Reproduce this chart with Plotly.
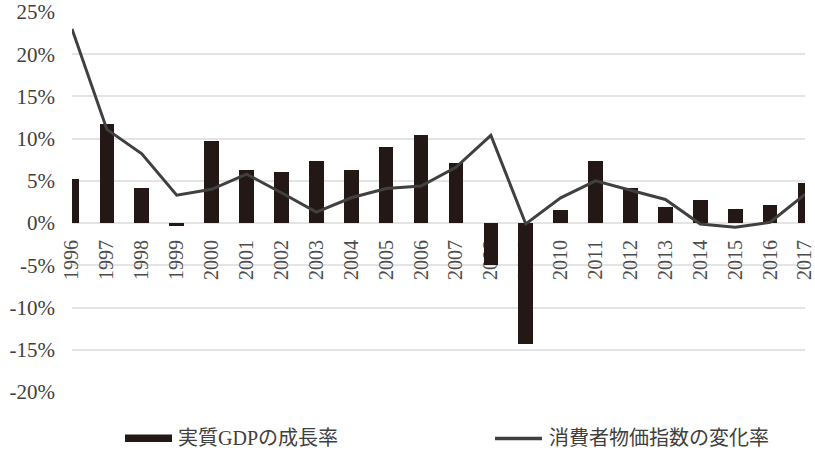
import plotly.graph_objects as go

# Annual figures, 1996-2017
years = [str(y) for y in range(1996, 2018)]
gdp_growth = [5.2, 11.7, 4.2, -0.3, 9.7, 6.3, 6.0, 7.4, 6.3, 9.0, 10.4,
              7.1, -5.0, -14.3, 1.5, 7.4, 4.2, 1.9, 2.7, 1.7, 2.1, 4.7]
cpi_change = [23.0, 11.1, 8.2, 3.3, 4.0, 5.8, 3.6, 1.3, 3.0, 4.1, 4.4,
              6.6, 10.4, -0.1, 3.0, 5.0, 3.9, 2.8, -0.1, -0.5, 0.1, 3.4]
y_ticks = [-20, -15, -10, -5, 0, 5, 10, 15, 20, 25]
y_tick_labels = [f"{v}%" for v in y_ticks]

series_names = ["実質GDPの成長率", "消費者物価指数の変化率"]

BAR_COLOR = "#231815"
LINE_COLOR = "#404040"
TEXT_COLOR = "#404040"
GRID_COLOR = "#e4e4e4"
SERIF = '"Liberation Serif", "Times New Roman", Times, serif'
MIXED = '"Liberation Serif", "Times New Roman", "Noto Sans CJK JP", serif'

W, H = 815, 453
ML, MR, MT, MB = 72, 10, 12, 61
PW, PH = W - ML - MR, H - MT - MB
Y_MIN, Y_MAX = -20, 25

x_pos = list(range(len(years)))

fig = go.Figure()
fig.add_trace(go.Bar(
    x=x_pos, y=gdp_growth, width=0.42,
    marker=dict(color=BAR_COLOR, line=dict(width=0)),
    name=series_names[0], showlegend=False,
))
fig.add_trace(go.Scatter(
    x=x_pos, y=cpi_change, mode="lines",
    line=dict(color=LINE_COLOR, width=3),
    name=series_names[1], showlegend=False,
))


def px_x(px):
    return (px - ML) / PW


def px_y(py):
    return (H - MB - py) / PH


# Legend drawn below the plot: bar swatch, line swatch, labels
shapes = [
    dict(type="rect", xref="paper", yref="paper",
         x0=px_x(125), x1=px_x(172), y0=px_y(442), y1=px_y(434.5),
         fillcolor=BAR_COLOR, line=dict(width=0)),
    dict(type="line", xref="paper", yref="paper",
         x0=px_x(495), x1=px_x(542), y0=px_y(438.5), y1=px_y(438.5),
         line=dict(color=LINE_COLOR, width=3.5)),
]
annotations = [
    dict(text=series_names[0], xref="paper", yref="paper",
         x=px_x(176), y=px_y(438), xanchor="left", yanchor="middle",
         showarrow=False, font=dict(family=MIXED, size=20, color=TEXT_COLOR)),
    dict(text=series_names[1], xref="paper", yref="paper",
         x=px_x(547), y=px_y(438), xanchor="left", yanchor="middle",
         showarrow=False, font=dict(family=MIXED, size=20, color=TEXT_COLOR)),
]

fig.update_layout(
    width=W, height=H,
    margin=dict(l=ML, r=MR, t=MT, b=MB, pad=0, autoexpand=False),
    paper_bgcolor="white", plot_bgcolor="white",
    font=dict(family=SERIF, size=21, color=TEXT_COLOR),
    bargap=0,
    shapes=shapes,
    annotations=annotations,
    xaxis=dict(
        range=[0, len(years) - 1],
        tickmode="array", tickvals=x_pos, ticktext=years,
        tickangle=-90,
        tickfont=dict(family=SERIF, size=20, color="#4d4d4d"),
        showgrid=False, zeroline=False, showline=False, ticks="",
        anchor="free",
        position=(0 - Y_MIN) / (Y_MAX - Y_MIN),
        ticklabelstandoff=12,
        ticklabeloverflow="allow",
        automargin=False,
        layer="below traces",
        fixedrange=True,
    ),
    yaxis=dict(
        range=[Y_MIN, Y_MAX],
        tickmode="array", tickvals=y_ticks, ticktext=y_tick_labels,
        tickfont=dict(family=SERIF, size=21, color=TEXT_COLOR),
        showgrid=True, gridcolor=GRID_COLOR, gridwidth=2,
        zeroline=False, showline=False, ticks="",
        ticklabelstandoff=16,
        automargin=False,
        fixedrange=True,
    ),
)

fig.write_html("out.html")
